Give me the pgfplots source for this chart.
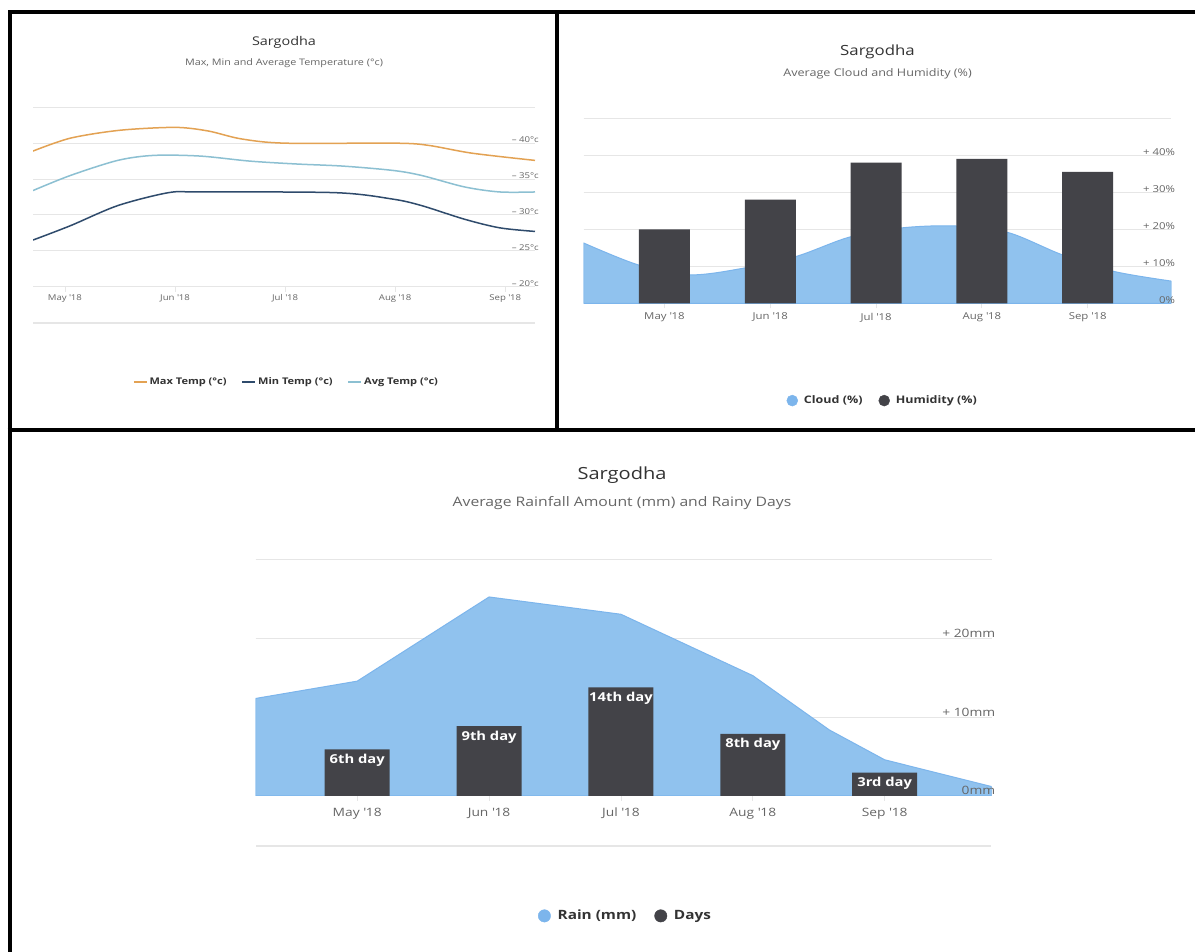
\documentclass[border=0pt]{standalone}
\usepackage{fontspec}
\setmainfont{Open Sans}[FakeStretch=1.2]
\usepackage{pgfplots}
\pgfplotsset{compat=1.18}
\definecolor{gridgray}{HTML}{E6E6E6}
\definecolor{maxc}{HTML}{E3A253}
\definecolor{minc}{HTML}{2F4B6C}
\definecolor{avgc}{HTML}{8CC0D2}
\definecolor{areac}{HTML}{90C2EE}
\definecolor{areal}{HTML}{7CB5EC}
\definecolor{barc}{HTML}{434348}
\definecolor{titlec}{HTML}{333333}
\definecolor{subc}{HTML}{666666}
\definecolor{labc}{HTML}{666666}
\newcommand{\yr}{\textquotesingle18}
\newcommand{\fs}[1]{\fontsize{#1}{#1}\selectfont}
\pgfplotsset{
  hc/.style={
    scale only axis,
    anchor=south west,
    axis line style={draw=none},
    ymajorgrids,
    grid style={draw=gridgray, line width=1pt},
    xtick={0,1,2,3,4},
    xticklabels={May \yr, Jun \yr, Jul \yr, Aug \yr, Sep \yr},
    ytick style={draw=none},
    xtick style={draw=gridgray, line width=0.8pt},
    xtick pos=left,
    tick align=outside,
    major tick length=5pt,
    yticklabel pos=right,
    yticklabel style={anchor=south east, inner sep=1pt, text=labc},
    xticklabel style={text=labc, anchor=center},
    legend cell align=left,
  },
  labonly/.style={hc, ymajorgrids=false, xtick=\empty},
}
\begin{document}
\begin{tikzpicture}
\useasboundingbox[fill=white] (0pt,0pt) rectangle (1195pt,952pt);

% ---------------- Chart 1: temperature ----------------
\node[text=titlec, font=\fs{12}] at (284pt,909.3pt) {Sargodha};
\node[text=subc, font=\fs{9}] at (284pt,888.7pt) {Max, Min and Average Temperature (°c)};
\begin{axis}[hc, at={(33pt,665.3pt)}, width=502pt, height=179.4pt,
  xmin=-0.29, xmax=4.27, ymin=20, ymax=45,
  ytick={20,25,30,35,40,45},
  yticklabels={– 20°c, – 25°c, – 30°c, – 35°c, – 40°c, {}},
  ticklabel style={font=\fs{8}},
  xticklabel style={yshift=-7pt},
  yticklabel style={yshift=-1pt},
  legend style={at={(0.505,-0.53)}, anchor=center, draw=none, fill=none,
    font=\bfseries\fs{9.2}, text=titlec, legend columns=3,
    /tikz/every even column/.append style={column sep=13pt}},
]
\addplot[maxc, line width=1.5pt, smooth, forget plot] coordinates {
  (-0.29,38.9) (0.05,40.7) (0.5,41.8) (1.0,42.2) (1.3,41.7) (1.6,40.6)
  (2.0,40.0) (3.0,40.0) (3.3,39.7) (3.7,38.6) (4.27,37.6)};
\addplot[minc, line width=1.5pt, smooth, forget plot] coordinates {
  (-0.29,26.5) (0.05,28.5) (0.48,31.3) (0.94,33.1) (1.23,33.2) (2.46,33.1)
  (2.98,32.2) (3.24,31.3) (3.63,29.4) (3.95,28.2) (4.27,27.7)};
\addplot[avgc, line width=1.5pt, smooth, forget plot] coordinates {
  (-0.29,33.4) (0.05,35.5) (0.48,37.6) (0.81,38.3) (1.23,38.2) (1.68,37.5)
  (2.1,37.1) (2.53,36.8) (2.98,36.2) (3.24,35.5) (3.63,33.9) (3.95,33.2) (4.27,33.2)};
\addlegendimage{legend image code/.code={\draw[maxc, line width=1.5pt] (0pt,0pt) -- (13pt,0pt);}}
\addlegendentry{Max Temp (°c)}
\addlegendimage{legend image code/.code={\draw[minc, line width=1.5pt] (0pt,0pt) -- (13pt,0pt);}}
\addlegendentry{Min Temp (°c)}
\addlegendimage{legend image code/.code={\draw[avgc, line width=1.5pt] (0pt,0pt) -- (13pt,0pt);}}
\addlegendentry{Avg Temp (°c)}
\end{axis}
\draw[gridgray, line width=2pt] (33pt,629pt) -- (535pt,629pt);

% ---------------- Chart 2: cloud and humidity ----------------
\node[text=titlec, font=\fs{14}] at (877.5pt,900.3pt) {Sargodha};
\node[text=subc, font=\fs{10.5}] at (877.5pt,878.7pt) {Average Cloud and Humidity (\%)};
\begin{axis}[hc, at={(583.6pt,648.7pt)}, width=587.7pt, height=185pt,
  xmin=-0.764, xmax=4.79, ymin=0, ymax=50,
  ytick={0,10,20,30,40,50},
  yticklabels={},
  ticklabel style={font=\fs{9.5}},
  xticklabel style={yshift=-9pt},
  legend style={at={(0.509,-0.526)}, anchor=center, draw=none, fill=none,
    font=\bfseries\fs{10.4}, text=titlec, legend columns=2,
    /tikz/every even column/.append style={column sep=14pt}},
]
\addplot[fill=areac, draw=areal, line width=1pt, smooth, forget plot] coordinates {
  (-0.764,16.3) (-0.25,10.4) (0.25,7.7) (0.75,9.5) (1.25,12.7) (1.75,17.9)
  (2.25,20.4) (2.75,20.9) (3.25,19.1) (3.75,13.2) (4.25,8.6) (4.79,6.0)} \closedcycle;
\addplot[ybar, bar width=51pt, fill=barc, draw=none, forget plot] coordinates {
  (0,20) (1,28) (2,38) (3,39) (4,35.5)};
\addlegendimage{legend image code/.code={\fill[areal] (5.5pt,0pt) circle (5.5pt); \path (15pt,0pt);}}
\addlegendentry{Cloud (\%)}
\addlegendimage{legend image code/.code={\fill[barc] (5.5pt,0pt) circle (5.5pt); \path (15pt,0pt);}}
\addlegendentry{Humidity (\%)}
\end{axis}
\begin{axis}[labonly, at={(583.6pt,648.7pt)}, width=587.7pt, height=185pt,
  xmin=-0.764, xmax=4.79, ymin=0, ymax=50,
  ytick={0,10,20,30,40,50},
  yticklabels={0\%, + 10\%, + 20\%, + 30\%, + 40\%, {}},
  ticklabel style={font=\fs{9.5}},
  yticklabel style={yshift=-2pt},
]
\addplot[draw=none, forget plot] coordinates {(0,0)};
\end{axis}

% ---------------- Chart 3: rainfall and rainy days ----------------
\node[text=titlec, font=\fs{16.7}] at (622pt,477pt) {Sargodha};
\node[text=subc, font=\fs{13.1}] at (622pt,448.7pt) {Average Rainfall Amount (mm) and Rainy Days};
\begin{axis}[hc, at={(255.7pt,156pt)}, width=735.8pt, height=236pt,
  xmin=-0.77, xmax=4.81, ymin=0, ymax=30,
  ytick={0,10,20,30},
  yticklabels={},
  ticklabel style={font=\fs{11.5}},
  xticklabel style={yshift=-12.5pt},
]
\addplot[fill=areac, draw=areal, line width=1pt, forget plot] coordinates {
  (-0.77,12.4) (0,14.6) (1,25.3) (2,23.1) (3,15.3) (3.58,8.4) (4,4.6) (4.81,1.2)} \closedcycle;
\end{axis}
\begin{axis}[scale only axis, anchor=south west, at={(255.7pt,156pt)}, width=735.8pt, height=236pt,
  xmin=-0.77, xmax=4.81, ymin=0, ymax=30.4, hide axis,
  legend style={at={(0.5026,-0.508)}, anchor=center, draw=none, fill=none,
    font=\bfseries\fs{12.8}, text=titlec, legend columns=2,
    /tikz/every even column/.append style={column sep=16pt}},
]
\addplot[ybar, bar width=65pt, fill=barc, draw=none, forget plot,
  nodes near coords, point meta=explicit symbolic,
  nodes near coords align={below},
  every node near coord/.append style={text=white, font=\bfseries\fs{12.3}, yshift=-1pt}]
  coordinates {(0,6)[6th day] (1,9)[9th day] (2,14)[14th day] (3,8)[8th day] (4,3)[3rd day]};
\addlegendimage{legend image code/.code={\fill[areal] (6pt,0pt) circle (6.2pt); \path (17pt,0pt);}}
\addlegendentry{Rain (mm)}
\addlegendimage{legend image code/.code={\fill[barc] (6pt,0pt) circle (6.2pt); \path (17pt,0pt);}}
\addlegendentry{Days}
\end{axis}
\begin{axis}[labonly, at={(255.7pt,156pt)}, width=735.8pt, height=236pt,
  xmin=-0.77, xmax=4.81, ymin=0, ymax=30,
  ytick={0,10,20,30},
  yticklabels={0mm, + 10mm, + 20mm, {}},
  ticklabel style={font=\fs{11.5}},
]
\addplot[draw=none, forget plot] coordinates {(0,0)};
\end{axis}
\draw[gridgray, line width=2pt] (256pt,106pt) -- (991pt,106pt);

% ---------------- panel borders ----------------
\draw[line width=4pt, line join=miter] (9.5pt,0pt) -- (9.5pt,940pt) -- (1197pt,940pt);
\draw[line width=4pt] (557pt,940pt) -- (557pt,521.5pt);
\draw[line width=4pt] (7.5pt,521.5pt) -- (1197pt,521.5pt);
\end{tikzpicture}
\end{document}
